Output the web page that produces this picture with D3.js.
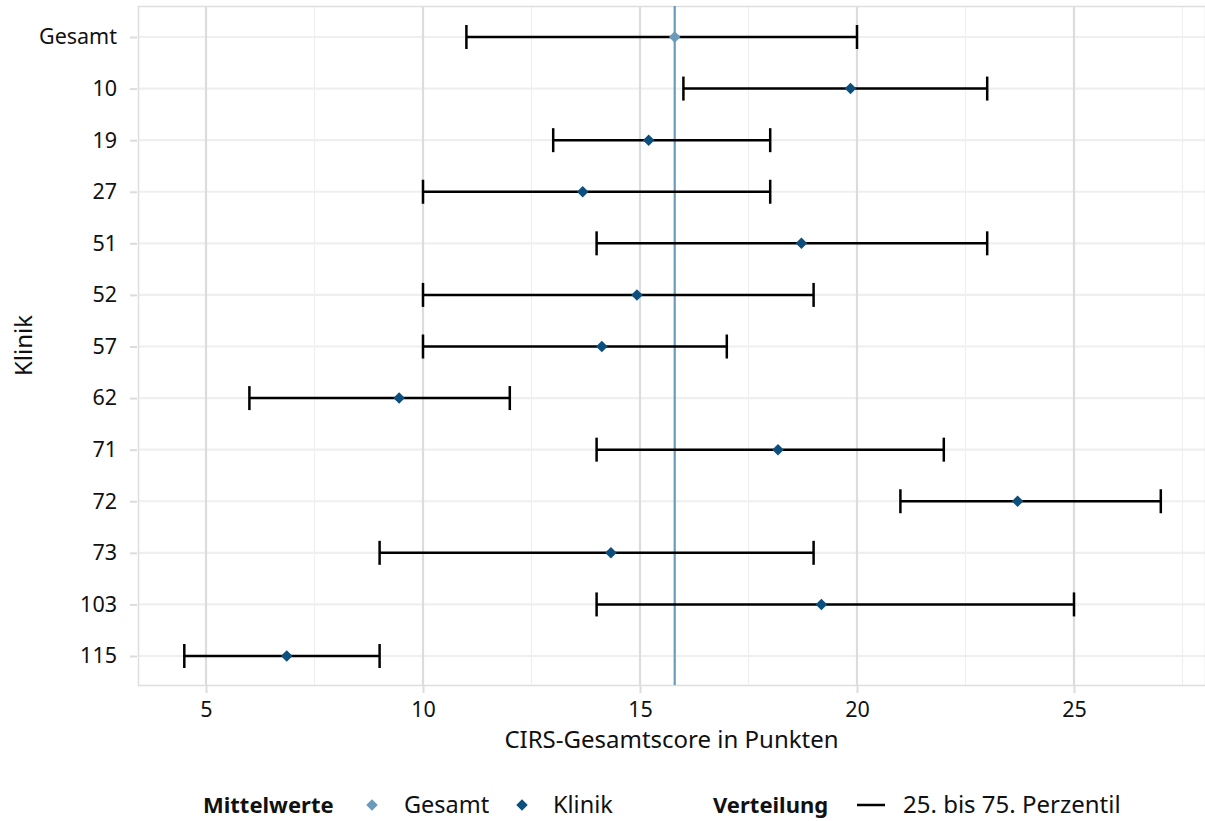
<!DOCTYPE html>
<html>
<head>
<meta charset="utf-8">
<script src="https://cdn.jsdelivr.net/npm/d3@7"></script>
<style>
body { margin: 0; background: #fff; }
text { font-family: "Noto Sans", "Open Sans", sans-serif; fill: #111; }
</style>
</head>
<body>
<div id="vis"></div>
<script>
// Data
var kliniken = ["Gesamt", "10", "19", "27", "51", "52", "57", "62", "71", "72", "73", "103", "115"];
var p25 = [11, 16, 13, 10, 14, 10, 10, 6, 14, 21, 9, 14, 4.5];
var p75 = [20, 23, 18, 18, 23, 19, 17, 12, 22, 27, 19, 25, 9];
var mittel = [15.8, 19.85, 15.2, 13.68, 18.72, 14.93, 14.12, 9.45, 18.18, 23.7, 14.33, 19.18, 6.86];
var xTicks = [5, 10, 15, 20, 25];
var xMinor = [7.5, 12.5, 17.5, 22.5, 27.5];

var gesamtWert = mittel[0];
var colGesamt = "#6b9abb", colKlinik = "#0c4f7d";

var width = 1205, height = 821;
var margin = {top: 6, right: 0, bottom: 136, left: 138};

var svg = d3.select("#vis").append("svg")
	.attr("width", width)
	.attr("height", height);

// x scale: 5 -> 206, 25 -> 1074
var x = d3.scaleLinear()
	.domain([5, 25])
	.range([206, 1074]);

var y = d3.scalePoint()
	.domain(kliniken)
	.range([37, 656]);

var data = kliniken.map(function(k, i) {
	return {klinik: k, lo: p25[i], hi: p75[i], m: mittel[i]};
});

var panel = {x0: margin.left, x1: width - margin.right, y0: margin.top, y1: height - margin.bottom};

// grid
var grid = svg.append("g").attr("class", "grid");

grid.selectAll(".minor")
	.data(xMinor)
	.enter().append("line")
	.attr("x1", function(d) { return x(d); })
	.attr("x2", function(d) { return x(d); })
	.attr("y1", panel.y0).attr("y2", panel.y1)
	.attr("stroke", "#efefef").attr("stroke-width", 1.2);

grid.selectAll(".hgrid")
	.data(kliniken)
	.enter().append("line")
	.attr("x1", panel.x0).attr("x2", panel.x1)
	.attr("y1", function(d) { return y(d); })
	.attr("y2", function(d) { return y(d); })
	.attr("stroke", "#efefef").attr("stroke-width", 2.2);

grid.selectAll(".major")
	.data(xTicks)
	.enter().append("line")
	.attr("x1", function(d) { return x(d); })
	.attr("x2", function(d) { return x(d); })
	.attr("y1", panel.y0).attr("y2", panel.y1)
	.attr("stroke", "#dcdcdc").attr("stroke-width", 2.2);

// panel border
svg.append("rect")
	.attr("x", panel.x0 + 0.5).attr("y", panel.y0 + 0.5)
	.attr("width", panel.x1 - panel.x0).attr("height", panel.y1 - panel.y0)
	.attr("fill", "none").attr("stroke", "#dedede").attr("stroke-width", 1.5);

// axes
var xAxis = d3.axisBottom(x).tickValues(xTicks).tickSize(7).tickPadding(9);
var gx = svg.append("g")
	.attr("transform", "translate(0," + (panel.y1 + 1) + ")")
	.call(xAxis);
gx.select(".domain").remove();
gx.selectAll(".tick line").attr("stroke", "#dcdcdc").attr("stroke-width", 2);
gx.selectAll(".tick text").attr("font-size", 21.5).attr("font-family", "Noto Sans").attr("fill", "#222");

var yAxis = d3.axisLeft(y).tickSize(7).tickPadding(13);
var gy = svg.append("g")
	.attr("transform", "translate(" + (panel.x0 - 1) + ",0)")
	.call(yAxis);
gy.select(".domain").remove();
gy.selectAll(".tick line").attr("stroke", "#dcdcdc").attr("stroke-width", 2);
gy.selectAll(".tick text").attr("font-size", 21.5).attr("font-family", "Noto Sans").attr("fill", "#222");

// axis titles
svg.append("text")
	.attr("x", (panel.x0 + panel.x1) / 2).attr("y", 748)
	.attr("text-anchor", "middle").attr("font-size", 24)
	.text("CIRS-Gesamtscore in Punkten");

svg.append("text")
	.attr("transform", "translate(32," + ((panel.y0 + panel.y1) / 2) + ") rotate(-90)")
	.attr("text-anchor", "middle").attr("font-size", 24)
	.text("Klinik");

// gesamt reference line
svg.append("line")
	.attr("x1", x(gesamtWert)).attr("x2", x(gesamtWert))
	.attr("y1", panel.y0).attr("y2", panel.y1)
	.attr("stroke", colGesamt).attr("stroke-width", 2.2);

// error bars
var bars = svg.append("g").attr("class", "bars")
	.selectAll("g")
	.data(data)
	.enter().append("g");

bars.append("line")
	.attr("x1", function(d) { return x(d.lo); })
	.attr("x2", function(d) { return x(d.hi); })
	.attr("y1", function(d) { return y(d.klinik); })
	.attr("y2", function(d) { return y(d.klinik); })
	.attr("stroke", "#000").attr("stroke-width", 2.5);

["lo", "hi"].forEach(function(k) {
	bars.append("line")
		.attr("x1", function(d) { return x(d[k]); })
		.attr("x2", function(d) { return x(d[k]); })
		.attr("y1", function(d) { return y(d.klinik) - 12; })
		.attr("y2", function(d) { return y(d.klinik) + 12; })
		.attr("stroke", "#000").attr("stroke-width", 2.5);
});

var diamond = d3.symbol().type(d3.symbolDiamond2).size(85);

bars.append("path")
	.attr("d", diamond)
	.attr("transform", function(d) { return "translate(" + x(d.m) + "," + y(d.klinik) + ")"; })
	.attr("fill", function(d) { return d.klinik === "Gesamt" ? colGesamt : colKlinik; });

// legend
var leg = svg.append("g").attr("transform", "translate(0,805)");
leg.append("text").attr("x", 203).attr("y", 8).attr("font-size", 22).attr("font-weight", "bold").text("Mittelwerte");
leg.append("path").attr("d", diamond).attr("transform", "translate(372,0)").attr("fill", colGesamt);
leg.append("text").attr("x", 404).attr("y", 8).attr("font-size", 23.5).text("Gesamt");
leg.append("path").attr("d", diamond).attr("transform", "translate(522,0)").attr("fill", colKlinik);
leg.append("text").attr("x", 553).attr("y", 8).attr("font-size", 23.5).text("Klinik");
leg.append("text").attr("x", 713).attr("y", 8).attr("font-size", 22).attr("font-weight", "bold").text("Verteilung");
leg.append("line").attr("x1", 857).attr("x2", 885).attr("y1", 0).attr("y2", 0).attr("stroke", "#000").attr("stroke-width", 2.5);
leg.append("text").attr("x", 903).attr("y", 8).attr("font-size", 24).text("25. bis 75. Perzentil");
</script>
</body>
</html>
